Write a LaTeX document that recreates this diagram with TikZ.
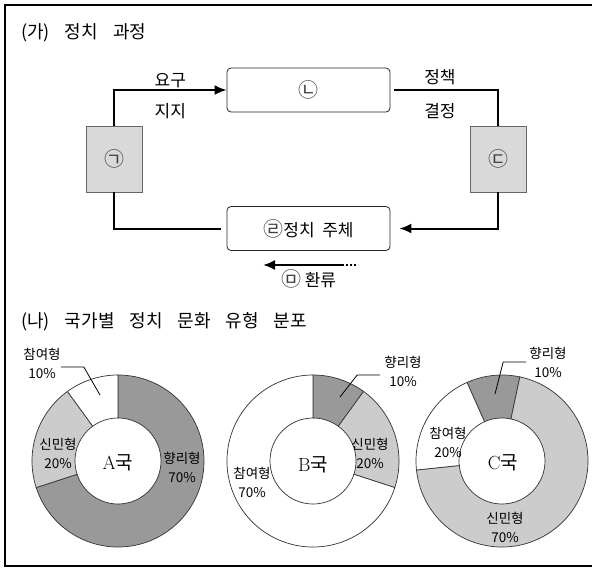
\documentclass[tikz,border=0pt]{standalone}
\usepackage{fontspec}
\newfontfamily\kr[WordSpace=2]{Noto Sans CJK KR}
\usepackage{tikz}
\usetikzlibrary{arrows.meta, positioning}
\definecolor{boxgray}{gray}{0.85}
\definecolor{darkpart}{gray}{0.60}
\definecolor{lightpart}{gray}{0.80}
\definecolor{edgegray}{gray}{0.40}
\definecolor{markgray}{gray}{0.25}

\begin{document}
\begin{tikzpicture}[x=1pt, y=-1pt,
	every node/.style={font={\kr\fontsize{17}{19}\selectfont}, inner sep=2pt},
	title/.style={anchor=west, font={\kr\fontsize{18}{20}\selectfont}},
	sidebox/.style={draw=edgegray, fill=boxgray, minimum width=56pt, minimum height=66pt, inner sep=0pt},
	mainbox/.style={draw=black!85, line width=0.8pt, fill=white, rounded corners=4pt, minimum width=163pt, minimum height=44pt, inner sep=0pt},
	flow/.style={line width=2pt, -{Latex[length=12pt, width=10pt]}},
	link/.style={line width=2pt},
	leader/.style={line width=0.8pt},
	piepart/.style={draw=black!80, line width=0.7pt},
	pielabel/.style={align=center, inner sep=0pt, font={\kr\fontsize{13.5}{19}\selectfont}},
	hub/.style={font={\fontsize{19}{20}\selectfont}},
]

\def \rout{86pt}
\def \rin{43pt}

\newcommand{\mk}[1]{{\fontsize{20}{20}\selectfont\color{markgray}#1}} % circled marks
\newcommand{\wgap}{\hspace{15pt}} % wide word gap in titles
\newcommand{\ringpart}[4]{\filldraw[piepart, fill=#4, shift={(#1)}] (#2:\rout) arc[start angle=#2, end angle=#3, radius=\rout] -- (#3:\rin) arc[start angle=#3, end angle=#2, radius=\rin] -- cycle;}

\useasboundingbox (0,0) rectangle (592,571);
\draw[line width=1.5pt] (600,5) -- (5,5) -- (5,566) -- (600,566); % frame, open on the right

% (ga) process
\node[title] (titlega) at (19,33) {(가)\wgap 정치\wgap 과정};

\node[sidebox] (gnode) at (114,159) {\mk{㉠}};
\node[mainbox] (nnode) at (308.5,90) {\mk{㉡}};
\node[sidebox] (dnode) at (498,159) {\mk{㉢}};
\node[mainbox] (rnode) at (308.5,228.5) {\mk{㉣}정치 주체};

\draw[flow] (gnode.north) |- (nnode.west) node[pos=0.75, above=-1pt] (demand) {요구} node[pos=0.75, below=10pt] (support) {지지};
\draw[link] ([xshift=4pt]nnode.east) -| (dnode.north) node[pos=0.22, above=2pt] (policy) {정책} node[pos=0.22, below=10pt] (decision) {결정};
\draw[flow, shorten >=9pt] (dnode.south) |- (rnode.east);
\draw[link, shorten >=6pt] (gnode.south) |- (rnode.west);

\coordinate (fbstart) at (342,265);
\coordinate (fbdots) at (358,265);
\coordinate (fbend) at (263,265);
\draw[flow] (fbstart) -- (fbend); % feedback
\draw[link, dotted] (fbstart) -- (fbdots);
\node (fblabel) at (309,279) {\mk{㉤}\,환류};

% (na) rings
\node[title] (titlena) at (19,322) {(나)\wgap 국가별\wgap 정치\wgap 문화\wgap 유형\wgap 분포};

\ringpart{118,461}{90}{-162}{darkpart}
\ringpart{118,461}{198}{126}{lightpart}
\ringpart{118,461}{126}{90}{white}

\ringpart{313,461}{90}{54}{darkpart}
\ringpart{313,461}{54}{-18}{lightpart}
\ringpart{313,461}{-18}{-270}{white}

\ringpart{502,461}{114}{78}{darkpart}
\ringpart{502,461}{78}{-174}{lightpart}
\ringpart{502,461}{186}{114}{white}

\node[hub] (acenter) at (118,463) {A\kr 국};
\node[pielabel] (ahyang) at (182,467) {향리형\\70\%};
\node[pielabel] (asinmin) at (58,453) {신민형\\20\%};
\node[pielabel] (achamyeo) at (42,363) {참여형\\10\%};
\coordinate (achamyeopt) at (100,395);
\draw[leader] ([yshift=-4pt]achamyeo.east) -- ++(23,0) -- (achamyeopt);

\node[hub] (bcenter) at (313,465) {B\kr 국};
\node[pielabel] (bhyang) at (403,371) {향리형\\10\%};
\node[pielabel] (bsinmin) at (370,453) {신민형\\20\%};
\node[pielabel] (bchamyeo) at (252,482) {참여형\\70\%};
\coordinate (bhyangpt) at (340,397);
\draw[leader] ([xshift=-4pt, yshift=-4pt]bhyang.west) -- ++(-23,0) -- (bhyangpt);

\node[hub] (ccenter) at (503,463) {C\kr 국};
\node[pielabel] (chyang) at (548,362) {향리형\\10\%};
\node[pielabel] (cchamyeo) at (448,442) {참여형\\20\%};
\node[pielabel] (csinmin) at (505,527) {신민형\\70\%};
\coordinate (chyangpt) at (495,394);
\draw[leader] ([xshift=-3pt]chyang.west) -- ++(-23,0) -- (chyangpt);

\end{tikzpicture}
\end{document}
